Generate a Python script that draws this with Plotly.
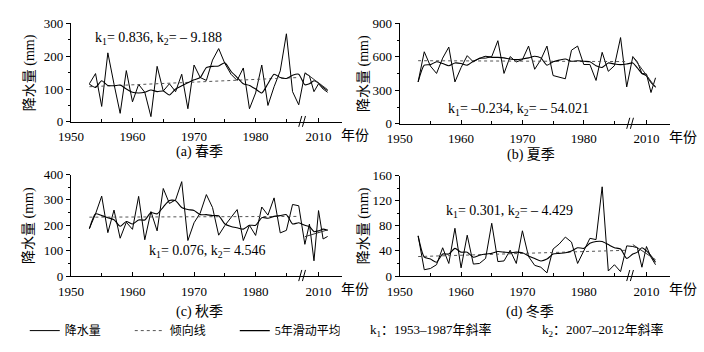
import plotly.graph_objects as go

W, H = 704, 352

# ---------------- data ----------------
years = list(range(1953, 1988)) + list(range(2007, 2013))
trend_pre_years = [1953, 1987]
trend_post_years = [2007, 2012]

spring_rain = [116, 147, 47, 210, 115, 26, 156, 61, 114, 90, 16, 169, 94, 116, 92, 145, 40, 173,
               135, 126, 188, 223, 178, 145, 126, 164, 40, 88, 173, 50, 107, 155, 268, 92, 52,
               148, 140, 92, 116, 100, 90]
spring_ma = [115, 105, 125, 111, 110, 112, 100, 90, 88, 90, 97, 92, 94, 82, 100, 110, 119, 128,
             135, 165, 169, 170, 180, 154, 135, 116, 111, 100, 88, 116, 145, 135, 132, 142, 145,
             113, 116, 125, 118, 105, 95]
spring_trend_pre = [107, 135]
spring_trend_post = [150, 98]

summer_rain = [375, 645, 517, 451, 588, 687, 375, 503, 610, 554, 588, 588, 602, 744, 451, 602, 554, 574,
               696, 488, 574, 696, 432, 417, 403, 659, 696, 531, 531, 388, 640, 470, 520, 772, 330,
               602, 554, 451, 446, 280, 412]
summer_ma = [375, 525, 530, 555, 540, 520, 545, 540, 525, 560, 585, 605, 595, 595, 590, 580, 575, 580,
             590, 605, 590, 525, 555, 570, 580, 560, 565, 560, 555, 520, 505, 545, 535, 530, 535,
             545, 500, 450, 430, 370, 330]
summer_trend_pre = [565, 557]
summer_trend_post = [600, 325]

autumn_rain = [187, 245, 315, 171, 260, 149, 212, 184, 314, 143, 254, 178, 345, 286, 300, 372, 140, 210,
               248, 321, 270, 161, 199, 230, 262, 140, 200, 160, 272, 240, 308, 170, 180, 282, 277,
               125, 205, 60, 258, 146, 156]
autumn_ma = [187, 245, 238, 230, 222, 196, 215, 205, 221, 221, 250, 245, 272, 298, 297, 270, 262, 258,
             242, 242, 238, 238, 205, 195, 190, 185, 200, 200, 230, 228, 235, 238, 242, 205, 210,
             200, 195, 175, 178, 185, 180]
autumn_trend_pre = [232, 235]
autumn_trend_post = [155, 182]

winter_rain = [64, 10, 12, 18, 45, 20, 76, 13, 65, 19, 20, 28, 84, 23, 24, 41, 20, 72,
               31, 17, 14, 5, 43, 51, 62, 54, 20, 39, 60, 58, 142, 8, 18, 7, 48,
               47, 45, 14, 47, 30, 18]
winter_ma = [64, 30, 27, 22, 35, 35, 44, 38, 38, 30, 33, 35, 36, 39, 38, 37, 38, 37,
             32, 28, 24, 27, 35, 36, 37, 40, 45, 44, 52, 55, 55, 50, 45, 43, 28,
             35, 38, 45, 40, 32, 22]
winter_trend_pre = [31, 41]
winter_trend_post = [50, 26]

season_titles = ["(a) 春季", "(b) 夏季", "(c) 秋季", "(d) 冬季"]
k_texts = ["k<sub>1</sub>= 0.836, k<sub>2</sub>= – 9.188",
           "k<sub>1</sub>= –0.234, k<sub>2</sub>= – 54.021",
           "k<sub>1</sub>= 0.076, k<sub>2</sub>= 4.546",
           "k<sub>1</sub>= 0.301, k<sub>2</sub>= – 4.429"]
x_tick_years = [1950, 1960, 1970, 1980, 2010]
x_minor_years = [1955, 1965, 1975, 1985]
y_ranges = [300, 900, 400, 160]
y_dticks = [100, 300, 100, 40]
legend_names = ["降水量", "倾向线", "5年滑动平均"]
k_legend = ["k<sub>1</sub>：1953–1987年斜率", "k<sub>2</sub>：2007–2012年斜率"]


def xpos(y):
    # broken axis: 2007-2012 compressed right after 1987
    return y if y <= 1987 else 1988.0 + (y - 2007) * 0.74


SERIF = "Liberation Serif, Noto Sans CJK SC"
FS = 13

panels = [
    dict(rain=spring_rain, ma=spring_ma, tp=spring_trend_pre, tq=spring_trend_post,
         box=(59, 335, 17, 120), k=(148, 33), sub=(190, 151), ytx=17),
    dict(rain=summer_rain, ma=summer_ma, tp=summer_trend_pre, tq=summer_trend_post,
         box=(394, 669, 17, 122), k=(515, 107), sub=(528, 155), ytx=357),
    dict(rain=autumn_rain, ma=autumn_ma, tp=autumn_trend_pre, tq=autumn_trend_post,
         box=(59, 335, 175, 281), k=(198, 255), sub=(190, 319), ytx=17),
    dict(rain=winter_rain, ma=winter_ma, tp=winter_trend_pre, tq=winter_trend_post,
         box=(394, 669, 176, 281), k=(506, 214), sub=(527, 319), ytx=357),
]

fig = go.Figure()
xs = [xpos(y) for y in years]
annotations = []
shapes = []


def note(text, px, py, size=14, xanchor="center", angle=0):
    annotations.append(dict(text=text, x=px / W, y=1 - py / H, xref="paper", yref="paper",
                            xanchor=xanchor, yanchor="middle", showarrow=False, textangle=angle,
                            font=dict(family=SERIF, size=size, color="black")))


for i, p in enumerate(panels):
    n = "" if i == 0 else str(i + 1)
    xa, ya = "x" + n, "y" + n
    show = (i == 0)
    fig.add_trace(go.Scatter(x=xs, y=p["rain"], mode="lines", xaxis=xa, yaxis=ya,
                             line=dict(color="black", width=1), name=legend_names[0],
                             showlegend=show, legendrank=1))
    fig.add_trace(go.Scatter(x=[xpos(y) for y in trend_pre_years], y=p["tp"], mode="lines",
                             xaxis=xa, yaxis=ya, line=dict(color="#555555", width=1, dash="dot"),
                             name=legend_names[1], showlegend=show, legendrank=2))
    fig.add_trace(go.Scatter(x=xs, y=p["ma"], mode="lines", xaxis=xa, yaxis=ya,
                             line=dict(color="black", width=1.1, shape="spline", smoothing=0.6),
                             name=legend_names[2], showlegend=show, legendrank=3))
    fig.add_trace(go.Scatter(x=[xpos(y) for y in trend_post_years], y=p["tq"], mode="lines",
                             xaxis=xa, yaxis=ya, line=dict(color="#333333", width=1),
                             showlegend=False))

    x0, x1, y0, y1 = p["box"]
    xdom = [x0 / W, x1 / W]
    ydom = [1 - y1 / H, 1 - y0 / H]
    fig.layout["xaxis" + n] = dict(
        domain=xdom, anchor=ya, range=[1950, 1994], showline=True, linecolor="black",
        linewidth=1, showgrid=False, zeroline=False, ticks="inside", ticklen=4,
        tickcolor="black", tickmode="array", tickvals=[xpos(v) for v in x_tick_years],
        ticktext=[str(v) for v in x_tick_years], tickfont=dict(family=SERIF, size=FS, color="black"),
        ticklabelstandoff=3,
        minor=dict(tickmode="array", tickvals=x_minor_years, ticks="inside", ticklen=3,
                   tickcolor="black"),
    )
    fig.layout["yaxis" + n] = dict(
        domain=ydom, anchor=xa, range=[0, y_ranges[i]], showline=True, linecolor="black",
        linewidth=1, showgrid=False, zeroline=False, ticks="outside", ticklen=4,
        tickcolor="black", dtick=y_dticks[i], tick0=0,
        tickfont=dict(family=SERIF, size=FS, color="black"),
        minor=dict(dtick=y_dticks[i] / 2, ticks="outside", ticklen=2, tickcolor="black"),
    )
    # axis break marks
    for off in (0.0, 0.6):
        shapes.append(dict(type="line", xref=xa, yref=ya + " domain",
                           x0=1987.0 + off, x1=1987.5 + off, y0=-0.05, y1=0.06,
                           line=dict(color="black", width=1)))
    note(k_texts[i], p["k"][0], p["k"][1])
    note(season_titles[i], p["sub"][0], p["sub"][1])
    note("年份", x1 - 3, y1 + 14, xanchor="left")
    note("降水量 (mm)", p["ytx"], (y0 + y1) / 2, angle=-90)

note(k_legend[0], 362, 338, size=13, xanchor="left")
note(k_legend[1], 537, 338, size=13, xanchor="left")

fig.update_layout(
    width=W, height=H, margin=dict(l=0, r=0, t=0, b=0),
    paper_bgcolor="white", plot_bgcolor="white",
    showlegend=True,
    legend=dict(orientation="h", x=12 / W, y=1 - 338 / H, xanchor="left", yanchor="middle",
                entrywidth=60, entrywidthmode="pixels", itemwidth=30,
                font=dict(family=SERIF, size=12, color="black"), bgcolor="rgba(0,0,0,0)",
                tracegroupgap=0),
    annotations=annotations, shapes=shapes,
)

fig.write_html("out.html")
